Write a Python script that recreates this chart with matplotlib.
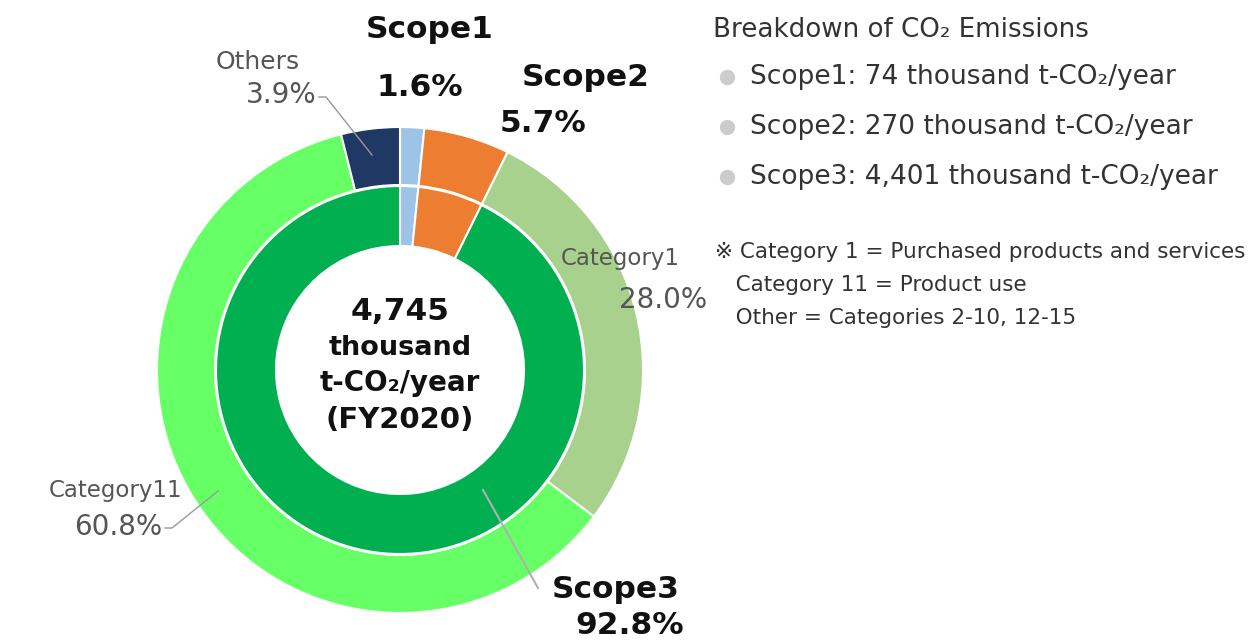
import matplotlib.pyplot as plt

# ring data (percent of total)
outer_labels = ["Scope1", "Scope2", "Category1", "Category11", "Others"]
outer_values = [1.6, 5.7, 28.0, 60.8, 3.9]
inner_labels = ["Scope1", "Scope2", "Scope3"]
inner_values = [1.6, 5.7, 92.8]

# emissions in thousand t-CO2/year
scope_names = ["Scope1", "Scope2", "Scope3"]
scope_emissions = [74, 270, 4401]
total_emissions = 4745
fiscal_year = "FY2020"

notes = [
    "※ Category 1 = Purchased products and services",
    "   Category 11 = Product use",
    "   Other = Categories 2-10, 12-15",
]

outer_colors = ["#9dc3e6", "#ed7d31", "#a9d18e", "#66ff66", "#203864"]
inner_colors = ["#9dc3e6", "#ed7d31", "#00b050"]

W, H = 1251, 643
fig = plt.figure(figsize=(W / 100, H / 100), dpi=100)
ax = fig.add_axes([0, 0, 1, 1])

cx, cy = 400, 370
# y axis is flipped below, so counterclock + start at -90 runs clockwise from 12 o'clock
ax.pie(outer_values, colors=outer_colors, radius=243, center=(cx, cy),
       startangle=-90, counterclock=True,
       wedgeprops=dict(width=58, edgecolor="white", linewidth=1.5))
ax.pie(inner_values, colors=inner_colors, radius=184, center=(cx, cy),
       startangle=-90, counterclock=True,
       wedgeprops=dict(width=60, edgecolor="white", linewidth=1.5))

ax.set_xlim(0, W)
ax.set_ylim(H, 0)
ax.set_aspect("equal")
ax.axis("off")

bold = dict(fontsize=22.5, fontweight="bold", color="#111111", ha="center", va="center")
grey = dict(color="#555555", va="center")

# bold scope labels
ax.text(430, 30, inner_labels[0], **bold)
ax.text(420, 88, f"{inner_values[0]:.1f}%", **bold)
ax.text(586, 78, inner_labels[1], **bold)
ax.text(543, 124, f"{inner_values[1]:.1f}%", **bold)
ax.text(616, 589, inner_labels[2], **bold)
ax.text(630, 626, f"{inner_values[2]:.1f}%", **bold)
ax.plot([483, 538], [490, 588], color="#b0b0b0", lw=1.5)

# grey category labels
ax.text(300, 62, outer_labels[4], ha="right", fontsize=18, **grey)
ax.text(317, 95, f"{outer_values[4]:.1f}%", ha="right", fontsize=20, **grey)
ax.plot([319, 326, 372], [97, 97, 155], color="#999999", lw=1)

ax.text(680, 258, outer_labels[2], ha="right", fontsize=16.5, **grey)
ax.text(707, 300, f"{outer_values[2]:.1f}%", ha="right", fontsize=20, **grey)

ax.text(182, 491, outer_labels[3], ha="right", fontsize=16.5, **grey)
ax.text(162, 527, f"{outer_values[3]:.1f}%", ha="right", fontsize=20, **grey)
ax.plot([165, 172, 218], [528, 528, 491], color="#999999", lw=1)

# centre text
ctr = dict(fontweight="bold", color="#111111", ha="center", va="center")
ax.text(cx, 311, f"{total_emissions:,}", fontsize=22.5, **ctr)
ax.text(cx, 348, "thousand", fontsize=19.5, **ctr)
ax.text(cx, 383, "t-CO₂/year", fontsize=20, **ctr)
ax.text(cx, 420, f"({fiscal_year})", fontsize=21, **ctr)

# right-hand breakdown
txt = "#333333"
ax.text(713, 30, "Breakdown of CO₂ Emissions", fontsize=18.8, color=txt, va="center")
for i, (name, val) in enumerate(zip(scope_names, scope_emissions)):
    y = 77 + i * 50
    ax.plot(727, y, "o", color="#cccccc", markersize=10)
    ax.text(750, y, f"{name}: {val:,} thousand t-CO₂/year", fontsize=19, color=txt, va="center")

for i, line in enumerate(notes):
    ax.text(715, 252 + i * 33, line, fontsize=15.5, color=txt, va="center")

fig.savefig("out.png", dpi=100)
